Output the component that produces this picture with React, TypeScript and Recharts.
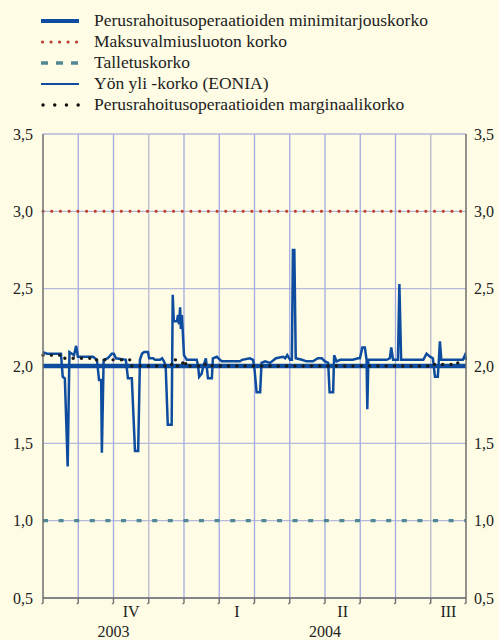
import { LineChart, Line, XAxis, YAxis, CartesianGrid, ReferenceLine } from "recharts";

// x values are months counted from 1 Sep 2003 (0) to 1 Sep 2004 (12)
const eoniaPoints: [number, number][] = [
  [0.0, 2.09], [0.11, 2.08], [0.51, 2.08], [0.56, 1.93], [0.62, 1.92], [0.7, 1.35], [0.75, 2.09],
  [0.88, 2.07], [0.94, 2.13], [0.99, 2.06], [1.42, 2.06], [1.53, 2.04], [1.59, 1.91], [1.65, 1.91],
  [1.67, 1.44], [1.72, 2.04], [1.84, 2.05], [1.95, 2.08], [2.01, 2.08], [2.07, 2.05], [2.35, 2.04],
  [2.41, 1.92], [2.52, 1.92], [2.61, 1.45], [2.7, 1.45], [2.75, 2.04], [2.81, 2.08], [2.87, 2.09],
  [2.98, 2.09], [3.01, 2.05], [3.12, 2.05], [3.18, 2.04], [3.32, 2.04], [3.38, 2.05], [3.43, 2.03],
  [3.48, 2.0], [3.54, 1.62], [3.65, 1.62], [3.68, 2.46], [3.71, 2.29], [3.8, 2.29], [3.83, 2.33],
  [3.86, 2.27], [3.89, 2.38], [3.91, 2.24], [3.94, 2.33], [4.0, 2.07], [4.08, 2.04], [4.36, 2.04],
  [4.4, 2.0], [4.43, 1.93], [4.5, 1.95], [4.55, 2.0], [4.62, 2.05], [4.68, 1.92], [4.79, 1.92],
  [4.82, 2.05], [4.93, 2.06], [5.07, 2.03], [5.59, 2.03], [5.65, 2.04], [5.87, 2.05], [5.96, 2.04],
  [6.0, 1.98], [6.06, 1.83], [6.16, 1.83], [6.2, 2.02], [6.3, 2.03], [6.44, 2.02], [6.61, 2.05],
  [6.81, 2.06], [6.87, 2.05], [6.93, 2.07], [7.01, 2.04], [7.06, 2.04], [7.09, 2.75], [7.13, 2.75],
  [7.17, 2.05], [7.34, 2.04], [7.48, 2.03], [7.66, 2.03], [7.8, 2.05], [7.91, 2.05], [8.0, 2.03],
  [8.09, 2.02], [8.13, 1.83], [8.23, 1.83], [8.26, 2.07], [8.33, 2.03], [8.43, 2.04], [8.79, 2.04],
  [8.94, 2.05], [8.99, 2.05], [9.06, 2.12], [9.13, 2.12], [9.18, 2.04], [9.2, 1.72], [9.23, 2.04],
  [9.75, 2.04], [9.84, 2.05], [9.88, 2.12], [9.93, 2.04], [10.07, 2.04], [10.11, 2.53], [10.16, 2.04],
  [10.79, 2.04], [10.88, 2.08], [10.98, 2.06], [11.06, 2.05], [11.12, 1.93], [11.2, 1.93], [11.23, 2.04],
  [11.26, 2.16], [11.3, 2.04], [11.91, 2.04], [11.97, 2.07], [12.0, 2.04],
];

// marginal rate of main refinancing operations (weekly steps)
const marginalPoints: [number, number][] = [
  [0, 2.07], [0.55, 2.05], [1.5, 2.04], [2.5, 2.0], [3.65, 2.04], [3.8, 2.0], [3.9, 2.02], [4.0, 2.0],
  [4.05, 2.02], [4.15, 2.0], [4.55, 2.01], [4.8, 2.0], [11.0, 2.01], [11.7, 2.02], [12, 2.02],
];

const minBidRate = 2.0;
const lendingRate = 3.0;
const depositRate = 1.0;

const yTicks = [0.5, 1.0, 1.5, 2.0, 2.5, 3.0, 3.5];
const monthTicks = [0, 1, 2, 3, 4, 5, 6, 7, 8, 9, 10, 11, 12];
const greyMonths = [3, 11];
const quarterPos = [2.5, 5.5, 8.5, 11.5];
const quarterLabels = ["IV", "I", "II", "III"];
const yearPos = [2, 8];
const yearLabels = ["2003", "2004"];

const legendNames = [
  "Perusrahoitusoperaatioiden minimitarjouskorko",
  "Maksuvalmiusluoton korko",
  "Talletuskorko",
  "Yön yli -korko (EONIA)",
  "Perusrahoitusoperaatioiden marginaalikorko",
];

const BG = "#fefce4";
const FONT = "Liberation Serif, Tinos, Times New Roman, DejaVu Serif, serif";
const BLUE = "#0d4c9e";
const RED = "#c0392b";
const TEAL = "#4f8795";
const AXIS = "#6e6e6e";

const toRows = (pts: [number, number][]) => pts.map(([m, v]) => ({ m, v }));
const flat = (v: number) => [{ m: 0, v }, { m: 12, v }];

const fmt = (v: number) => v.toFixed(1).replace(".", ",");

function LegendSwatch({ i }: { i: number }) {
  const y = 6;
  const line =
    i === 0 ? <line x1={0} x2={38} y1={y} y2={y} stroke={BLUE} strokeWidth={4} />
    : i === 1 ? <line x1={1.5} x2={38} y1={y} y2={y} stroke={RED} strokeWidth={3} strokeDasharray="0.1 8.4" strokeLinecap="round" />
    : i === 2 ? <line x1={0} x2={38} y1={y} y2={y} stroke={TEAL} strokeWidth={3.3} strokeDasharray="7 8" />
    : i === 3 ? <line x1={0} x2={38} y1={y} y2={y} stroke={BLUE} strokeWidth={2.2} />
    : <line x1={2} x2={38} y1={y} y2={y} stroke="#111" strokeWidth={3.4} strokeDasharray="0.1 11.6" strokeLinecap="round" />;
  return <svg width={40} height={12} style={{ position: "absolute", left: 41, top: -6 }}>{line}</svg>;
}

function Legend() {
  const rowY = [20.5, 41.5, 62.5, 84, 105];
  return (
    <div style={{ position: "absolute", left: 0, top: 0, width: 499, height: 120 }}>
      {legendNames.map((n, i) => (
        <div key={n} style={{ position: "absolute", left: 0, top: rowY[i] }}>
          <LegendSwatch i={i} />
          <span
            style={{
              position: "absolute", left: 94, top: -11, whiteSpace: "nowrap",
              fontFamily: FONT, fontSize: 17.5, color: "#222", lineHeight: "20px",
            }}
          >
            {n}
          </span>
        </div>
      ))}
    </div>
  );
}

function MonthTick(props: any) {
  const { x, y, payload } = props;
  const v = payload.value;
  const parts = [];
  if (monthTicks.includes(v)) {
    parts.push(
      <path key="t" d={`M${x},${y} L${x},${y + 5} L${x - 1.5},${y + 6}`} stroke={AXIS} strokeWidth={1.4} fill="none" />
    );
  }
  const qi = quarterPos.indexOf(v);
  if (qi >= 0) {
    parts.push(
      <text key="q" x={x} y={y + 19} textAnchor="middle" fontFamily={FONT} fontSize={16} fill="#222">
        {quarterLabels[qi]}
      </text>
    );
  }
  const yi = yearPos.indexOf(v);
  if (yi >= 0) {
    parts.push(
      <text key="y" x={x} y={y + 39} textAnchor="middle" fontFamily={FONT} fontSize={16} fill="#222">
        {yearLabels[yi]}
      </text>
    );
  }
  return <g>{parts}</g>;
}

export default function App() {
  return (
    <div style={{ position: "absolute", left: 0, top: 0, width: 499, height: 640, background: BG, overflow: "hidden" }}>
      <Legend />
      <LineChart width={499} height={640} margin={{ top: 134, right: 0, left: 0, bottom: 0 }}>
        <CartesianGrid yAxisId="l" vertical={false} stroke="#b6b9dc" strokeWidth={1.3} />
        {monthTicks.slice(1, -1).map((m) => (
          <ReferenceLine
            key={m}
            yAxisId="l"
            x={m}
            stroke={greyMonths.includes(m) ? "#b9bacd" : "#a2aae2"}
            strokeWidth={1.3}
          />
        ))}
        <XAxis
          type="number"
          dataKey="m"
          domain={[0, 12]}
          ticks={[...monthTicks, ...quarterPos].sort((a, b) => a - b)}
          interval={0}
          tickSize={0}
          tickMargin={0}
          tickLine={false}
          tick={<MonthTick />}
          height={42}
          axisLine={{ stroke: AXIS, strokeWidth: 1.5 }}
        />
        <YAxis
          yAxisId="l"
          domain={[0.5, 3.5]}
          ticks={yTicks}
          interval={0}
          width={43}
          tickLine={false}
          tickSize={8}
          tickFormatter={fmt}
          axisLine={{ stroke: AXIS, strokeWidth: 1.5 }}
          tick={{ fontFamily: FONT, fontSize: 16, fill: "#222" }}
        />
        <YAxis
          yAxisId="r"
          orientation="right"
          domain={[0.5, 3.5]}
          ticks={yTicks}
          interval={0}
          width={33}
          tickLine={false}
          tickSize={6}
          tickFormatter={fmt}
          axisLine={{ stroke: AXIS, strokeWidth: 1.5 }}
          tick={{ fontFamily: FONT, fontSize: 16, fill: "#222" }}
        />
        <Line yAxisId="r" data={flat(lendingRate)} dataKey="v" stroke={RED} strokeWidth={3}
          strokeDasharray="0.1 8.6" strokeLinecap="round" dot={false} isAnimationActive={false} />
        <Line yAxisId="r" data={flat(depositRate)} dataKey="v" stroke={TEAL} strokeWidth={3.4}
          strokeDasharray="5 10.6" dot={false} isAnimationActive={false} />
        <Line yAxisId="l" data={flat(minBidRate)} dataKey="v" stroke={BLUE} strokeWidth={4.5}
          dot={false} isAnimationActive={false} />
        <Line yAxisId="l" data={toRows(eoniaPoints)} dataKey="v" type="linear" stroke={BLUE} strokeWidth={2.5}
          dot={false} isAnimationActive={false} />
        <Line yAxisId="l" data={toRows(marginalPoints)} dataKey="v" type="stepAfter" stroke="#1a1a1a" strokeWidth={3.3}
          strokeDasharray="0.1 8.2" strokeLinecap="round" dot={false} isAnimationActive={false} />
      </LineChart>
    </div>
  );
}
